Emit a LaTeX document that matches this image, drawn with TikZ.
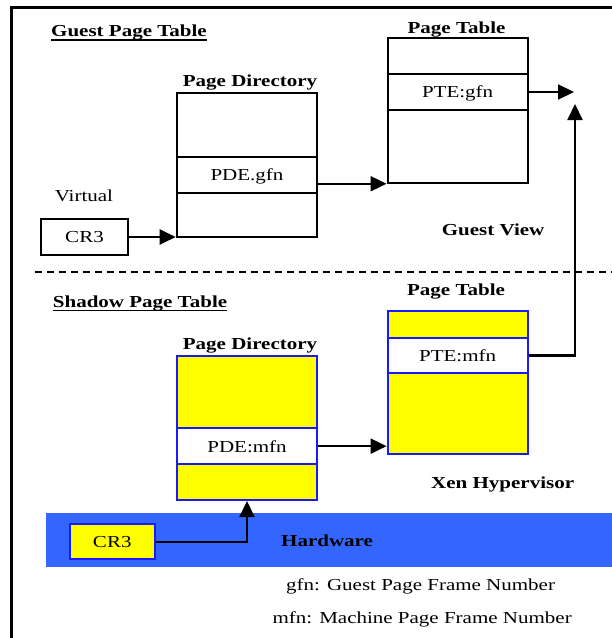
\documentclass[tikz,border=0pt]{standalone}
\usepackage{fontspec}
\setmainfont{Liberation Serif}
\usepackage{graphicx}
\usetikzlibrary{arrows.meta}
\definecolor{cellblue}{RGB}{25,25,255}
\definecolor{hwblue}{RGB}{51,102,255}
\definecolor{cellyellow}{RGB}{255,255,0}
\newcommand{\wtxt}[1]{\scalebox{1.25}[1]{#1}}
\newcommand{\wbold}[1]{\scalebox{1.25}[1]{\bfseries #1}}

\begin{document}
\begin{tikzpicture}[x=1pt,y=-1pt,
  every node/.style={font=\fontsize{16.8}{20}\selectfont, inner sep=0pt},
  cell/.style={draw=black, line width=2.1pt, fill=white, text depth=0pt},
  gcol/.style={cell, minimum width=140.5pt},
  tcol/.style={cell, minimum width=140.1pt},
  ycell/.style={draw=cellblue, line width=2pt, fill=cellyellow, text depth=0pt},
  wcell/.style={draw=cellblue, line width=2pt, fill=white, text depth=0pt},
  lbl/.style={anchor=base},
  uline/.style={line width=1.6pt},
  arr/.style={line width=2.1pt, -{Triangle[length=16pt,width=15pt]}}
]
\useasboundingbox (0,0) rectangle (612,638);
\fill[white] (0,0) rectangle (612,638);

% outer frame (top and left edges)
\draw[line width=2.2pt] (620,7.5) -- (11.5,7.5) -- (11.5,645);

% ---------- guest side ----------
\node[lbl, anchor=base west] (ttlguest) at (51,36.5) {\wbold{Guest Page Table}};
\draw[uline] ([yshift=-3.5pt]ttlguest.base west) -- ([yshift=-3.5pt]ttlguest.base east);

\node[lbl] (gpdttl) at (250,86) {\wbold{Page Directory}};
\node[gcol, minimum height=64pt] (gpd1) at (247,124.7) {};
\node[gcol, minimum height=36pt] (gpd2) at (247,174.7) {\wtxt{PDE.gfn}};
\node[gcol, minimum height=44.6pt] (gpd3) at (247,215) {};

\node[lbl] (gptttl) at (456.5,33) {\wbold{Page Table}};
\node[tcol, minimum height=35.7pt] (gpt1) at (457.65,56.15) {};
\node[tcol, minimum height=36pt] (gpt2) at (457.65,92) {\wtxt{PTE:gfn}};
\node[tcol, minimum height=72.7pt] (gpt3) at (457.65,146.35) {};

\node[lbl, anchor=base west] (virt) at (54.6,201.5) {\wtxt{Virtual}};
\node[cell, minimum width=87pt, minimum height=36pt] (gcr3) at (84.5,237) {\wtxt{CR3}};

\node[lbl, anchor=base west] (gview) at (441.7,235) {\wbold{Guest View}};

\coordinate (gtip) at (574,92);
\coordinate (stip) at (575,104);

% separator
\draw[line width=2pt, dash pattern=on 7pt off 5pt] (35,271.5) -- (620,271.5);

% ---------- shadow side ----------
\node[lbl, anchor=base west] (ttlshadow) at (52.7,307) {\wbold{Shadow Page Table}};
\draw[uline] ([yshift=-3.5pt]ttlshadow.base west) -- ([yshift=-3.5pt]ttlshadow.base east);

\node[lbl] (sptttl) at (456,295) {\wbold{Page Table}};
\node[ycell, minimum width=140.1pt, minimum height=27pt] (spt1) at (457.65,324.2) {};
\node[wcell, minimum width=140.1pt, minimum height=35.6pt] (spt2) at (457.65,355.5) {\wtxt{PTE:mfn}};
\node[ycell, minimum width=140.1pt, minimum height=81pt] (spt3) at (457.65,413.8) {};

\node[lbl] (spdttl) at (250,349) {\wbold{Page Directory}};
\node[ycell, minimum width=140.5pt, minimum height=72.3pt] (spd1) at (247,392.15) {};
\node[wcell, minimum width=140.5pt, minimum height=35.7pt] (spd2) at (247,446.15) {\wtxt{PDE:mfn}};
\node[ycell, minimum width=140.5pt, minimum height=36pt] (spd3) at (247,482) {};

\node[lbl, anchor=base west] (xen) at (431,488) {\wbold{Xen Hypervisor}};

% hardware layer
\node[fill=hwblue, minimum width=566pt, minimum height=53.4pt] (hw) at (329,540) {};
\node[lbl, anchor=base west] (hwlbl) at (281,546.5) {\wbold{Hardware}};
\node[ycell, minimum width=85.5pt, minimum height=35.3pt] (scr3) at (112.25,541.65) {\wtxt{CR3}};

% legend
\node[lbl, anchor=base west] (leg1) at (286,590) {\wtxt{gfn: Guest Page Frame Number}};
\node[lbl, anchor=base west] (leg2) at (272.4,623) {\wtxt{mfn: Machine Page Frame Number}};

% ---------- connectors ----------
\draw[arr] (gcr3.east) -- (gcr3.east -| gpd3.west);
\draw[arr] (gpd2.east |- gpt3.south) -- (gpt3.south west);
\draw[arr] (gpt2.east) -- (gtip);
\draw[arr] (spt2.east) -| (stip);
\draw[arr] (spd2.east) -- (spd2.east -| spt3.west);
\draw[arr] (scr3.east) -| (spd3.south);
\end{tikzpicture}
\end{document}
